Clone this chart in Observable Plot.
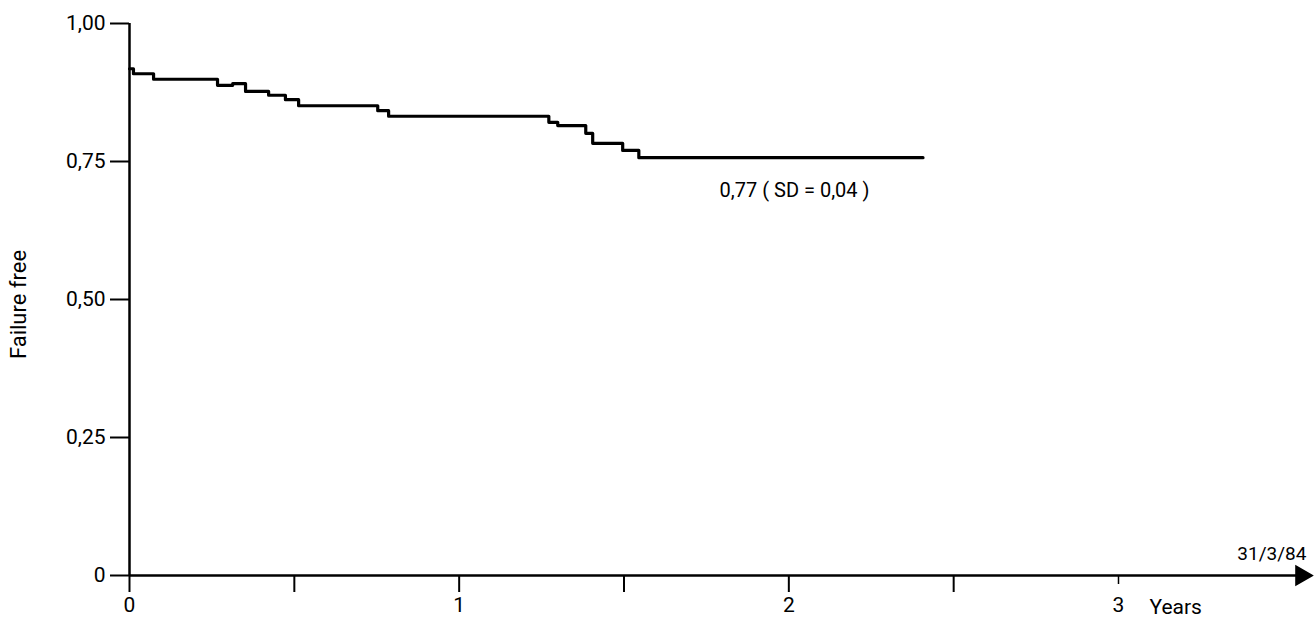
<!DOCTYPE html>
<html><head><meta charset="utf-8">
<script src="https://cdn.jsdelivr.net/npm/d3@7"></script>
<script src="https://cdn.jsdelivr.net/npm/@observablehq/plot@0.6"></script>
<style>
body{margin:0;background:#fff;}
#chart svg{display:block;}
</style>
</head><body><div id="chart"></div>
<script>
// Kaplan-Meier style step curve (years, proportion failure free)
const times =    [0,     0.012, 0.073, 0.267, 0.313, 0.352, 0.422, 0.473, 0.513, 0.753, 0.786, 1.272, 1.299, 1.384, 1.405, 1.496, 1.545, 2.407];
const survival = [0.918, 0.909, 0.899, 0.888, 0.891, 0.877, 0.870, 0.862, 0.851, 0.842, 0.832, 0.821, 0.815, 0.801, 0.783, 0.770, 0.757, 0.757];

const yTicks = [0, 0.25, 0.5, 0.75, 1];
const yTickLabels = ["0", "0,25", "0,50", "0,75", "1,00"];
const xTicks = [0, 0.5, 1, 1.5, 2, 2.5];
const xLastTick = [3];
const xTickLabels = {0: "0", 1: "1", 2: "2", 3: "3"};
const xAxisEnd = [3.57];

const yTitle = "Failure free";
const xTitle = "Years";
const dateNote = "31/3/84";
const annotation = "0,77 ( SD = 0,04 )";
const annotationAt = {x: 1.79, y: 0.698};

const curve = times.map((t, i) => ({t, s: survival[i]}));
const font = "Roboto, 'Liberation Sans', sans-serif";

const chart = Plot.plot({
  width: 1314,
  height: 622,
  marginTop: 23,
  marginBottom: 47,
  marginLeft: 129,
  marginRight: 4,
  style: {fontFamily: font, fontSize: "21px", color: "#000", background: "#fff"},
  x: {domain: [0, 3], range: [129, 1118]},
  y: {domain: [0, 1]},
  marks: [
    // axis lines
    Plot.ruleX([0], {y1: 0, y2: 1, stroke: "#000", strokeWidth: 2.5}),
    Plot.ruleY([0], {x1: 0, x2: xAxisEnd[0], stroke: "#000", strokeWidth: 2.5}),
    Plot.dot(xAxisEnd, {x: d => d, y: 0, symbol: "triangle", rotate: 90, r: 7, fill: "#000", stroke: "#000", dx: -5}),
    // y axis
    Plot.axisY({ticks: yTicks, tickFormat: d => yTickLabels[yTicks.indexOf(d)], tickSize: 19, tickPadding: 5, strokeWidth: 2, label: null, fontSize: 21}),
    // x axis
    Plot.axisX({ticks: xTicks, tickFormat: d => xTickLabels[d] ?? "", tickSize: 17, tickPadding: 5, strokeWidth: 2, label: null, fontSize: 21}),
    Plot.axisX({ticks: xLastTick, tickFormat: d => xTickLabels[d], tickSize: 9, tickPadding: 13, strokeWidth: 1.5, label: null, fontSize: 21}),
    // titles
    Plot.text([yTitle], {frameAnchor: "left", textAnchor: "middle", dx: -111, dy: 5, rotate: -90, fontSize: 22, letterSpacing: 2}),
    Plot.text([xTitle], {x: 3, y: 0, dx: 31, dy: 32, textAnchor: "start", fontSize: 21, letterSpacing: 1}),
    Plot.text([dateNote], {x: xAxisEnd[0], y: 0, dx: 0, dy: -22, textAnchor: "end", fontSize: 19}),
    // curve
    Plot.line(curve, {x: "t", y: "s", curve: "step-after", stroke: "#000", strokeWidth: 3.2}),
    Plot.text([annotation], {x: annotationAt.x, y: annotationAt.y, textAnchor: "start", fontSize: 20})
  ]
});
document.getElementById("chart").appendChild(chart);
</script>
</body></html>
